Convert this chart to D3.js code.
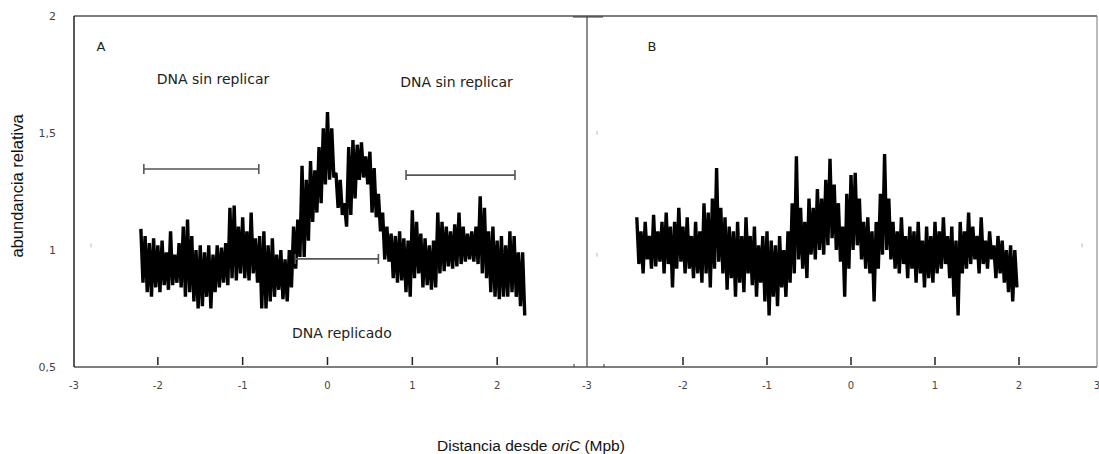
<!DOCTYPE html>
<html>
<head>
<meta charset="utf-8">
<script src="https://cdn.jsdelivr.net/npm/d3@7"></script>
<style>
  html, body { margin: 0; padding: 0; background: #fff; }
  svg { display: block; }
</style>
</head>
<body>
<svg id="chart" width="1099" height="454"></svg>
<script>
// x ticks (Mpb from oriC) and y ticks
const xTicks = [-3, -2, -1, 0, 1, 2, 3];
const yTicks = [0.5, 1, 1.5, 2];
const yTickLabels = ['0,5', '1', '1,5', '2'];

// panel A: positions start at -2.2, step 0.05; upper / lower swing of the trace
const startA = -2.2;
const hiA = [1.09, 1.06, 1.03, 1.05, 1.02, 1.04, 0.99, 1.08, 0.98, 1.03,
  1.10, 1.13, 1.06, 1.00, 1.02, 0.99, 1.02, 0.98, 1.02, 1.01,
  1.03, 1.18, 1.19, 1.10, 1.14, 1.08, 1.16, 1.05, 1.06, 1.08,
  1.02, 1.05, 0.98, 1.00, 0.96, 1.00, 1.10, 1.13, 1.36, 1.30,
  1.38, 1.34, 1.44, 1.52, 1.59, 1.52, 1.33, 1.30, 1.20, 1.44,
  1.47, 1.45, 1.46, 1.40, 1.42, 1.35, 1.24, 1.16, 1.10, 1.07,
  1.06, 1.08, 1.05, 1.04, 1.17, 1.12, 1.07, 1.05, 1.02, 1.04,
  1.16, 1.12, 1.10, 1.08, 1.11, 1.16, 1.10, 1.07, 1.08, 1.10,
  1.23, 1.18, 1.08, 1.10, 1.04, 1.06, 1.02, 1.08, 1.06, 0.99, 0.99];
const loA = [0.86, 0.82, 0.80, 0.84, 0.82, 0.85, 0.83, 0.85, 0.86, 0.84,
  0.80, 0.82, 0.78, 0.75, 0.76, 0.80, 0.75, 0.82, 0.84, 0.86,
  0.85, 0.88, 0.87, 0.90, 0.88, 0.87, 0.90, 0.86, 0.75, 0.75,
  0.78, 0.80, 0.83, 0.79, 0.78, 0.84, 0.92, 0.97, 0.97, 1.04,
  1.12, 1.16, 1.20, 1.28, 1.30, 1.31, 1.18, 1.15, 1.10, 1.15,
  1.22, 1.30, 1.31, 1.28, 1.16, 1.14, 1.08, 0.96, 0.95, 0.88,
  0.86, 0.87, 0.82, 0.80, 0.88, 0.90, 0.84, 0.85, 0.83, 0.84,
  0.90, 0.91, 0.93, 0.92, 0.93, 0.94, 0.95, 0.96, 0.95, 0.94,
  0.90, 0.88, 0.82, 0.80, 0.79, 0.80, 0.80, 0.82, 0.80, 0.76, 0.72];

// panel B: positions start at -2.55, step 0.05
const startB = -2.55;
const hiB = [1.14, 1.08, 1.12, 1.06, 1.15, 1.08, 1.12, 1.16, 1.10, 1.12,
  1.18, 1.10, 1.14, 1.06, 1.12, 1.08, 1.20, 1.16, 1.22, 1.35,
  1.18, 1.14, 1.10, 1.08, 1.12, 1.06, 1.14, 1.06, 1.10, 1.02,
  1.06, 1.08, 1.04, 1.02, 1.06, 1.00, 1.08, 1.20, 1.40, 1.18,
  1.12, 1.22, 1.18, 1.26, 1.22, 1.30, 1.39, 1.28, 1.20, 1.10,
  1.24, 1.32, 1.33, 1.22, 1.12, 1.14, 1.08, 1.12, 1.24, 1.41,
  1.22, 1.12, 1.08, 1.14, 1.06, 1.10, 1.08, 1.12, 1.04, 1.10,
  1.06, 1.12, 1.08, 1.14, 1.06, 1.10, 1.04, 1.12, 1.08, 1.16,
  1.10, 1.06, 1.14, 1.04, 1.08, 1.02, 1.06, 1.04, 1.00, 1.02, 1.00];
const loB = [0.94, 0.90, 0.96, 0.92, 0.93, 0.95, 0.90, 0.94, 0.84, 0.92,
  0.95, 0.90, 0.92, 0.88, 0.90, 0.86, 0.90, 0.84, 0.92, 0.95,
  0.90, 0.83, 0.88, 0.80, 0.86, 0.82, 0.90, 0.85, 0.80, 0.86,
  0.78, 0.72, 0.80, 0.76, 0.84, 0.80, 0.86, 0.90, 0.96, 0.92,
  0.88, 0.98, 0.96, 1.00, 0.98, 1.02, 1.05, 1.00, 0.95, 0.80,
  0.92, 1.00, 1.02, 0.96, 0.92, 0.90, 0.78, 0.92, 0.98, 1.00,
  0.96, 0.92, 0.90, 0.94, 0.88, 0.92, 0.86, 0.90, 0.84, 0.88,
  0.86, 0.90, 0.92, 0.94, 0.88, 0.80, 0.72, 0.90, 0.92, 0.94,
  0.96, 0.90, 0.94, 0.92, 0.96, 0.88, 0.90, 0.86, 0.82, 0.78, 0.84];

// annotation ranges in panel A: [x0, x1, y]
const spans = [[-2.165, -0.81, 1.346], [0.926, 2.21, 1.32], [-0.38, 0.60, 0.962]];
const notes = [
  { text: 'DNA sin replicar', x: -1.35, y: 1.73 },
  { text: 'DNA sin replicar', x: 1.52, y: 1.718 },
  { text: 'DNA replicado', x: 0.17, y: 0.645 }
];

const svg = d3.select('#chart');
const yTop = 16, yBottom = 367;
const frameL = 74, frameMid = 587, frameR = 1097;
const y = d3.scaleLinear().domain([0.5, 2]).range([yBottom, yTop]);
const xA = d3.scaleLinear().domain([-3, 3]).range([73, 582]);
const xB = d3.scaleLinear().domain([-3, 3]).range([599, 1103]);

// frame
svg.append('line').attr('x1', frameL).attr('x2', frameR).attr('y1', yTop).attr('y2', yTop)
  .attr('stroke', '#555').attr('stroke-width', 1.5);
svg.append('line').attr('x1', frameL).attr('x2', frameR).attr('y1', yBottom).attr('y2', yBottom)
  .attr('stroke', '#555').attr('stroke-width', 1.5);
svg.append('line').attr('x1', frameL).attr('x2', frameL).attr('y1', yTop).attr('y2', yBottom)
  .attr('stroke', '#222').attr('stroke-width', 1.5);
svg.append('line').attr('x1', frameMid).attr('x2', frameMid).attr('y1', yTop).attr('y2', yBottom)
  .attr('stroke', '#666').attr('stroke-width', 1.5);
svg.append('line').attr('x1', frameR).attr('x2', frameR).attr('y1', yTop).attr('y2', yBottom)
  .attr('stroke', '#777').attr('stroke-width', 1);

// x axes (end labels sit on the panel edges)
[xA, xB].forEach((x, k) => {
  const g = svg.append('g');
  xTicks.forEach(t => {
    if (t > -3 && t < 3) {
      g.append('line').attr('x1', x(t)).attr('x2', x(t))
        .attr('y1', yBottom - 10).attr('y2', yBottom - 2)
        .attr('stroke', '#222').attr('stroke-width', 1.5);
    }
    if (k === 0 && t === 3) return;
    let lx = x(t);
    if (t === -3) lx = k === 0 ? frameL : frameMid;
    if (t === 3) lx = frameR;
    g.append('text').attr('x', lx).attr('y', yBottom + 22)
      .attr('text-anchor', 'middle')
      .attr('font-family', 'DejaVu Sans, sans-serif').attr('font-size', 10)
      .attr('fill', '#444').text(t);
  });
});
// small marks where the two panels meet
[-13, 17].forEach(d => {
  svg.append('line').attr('x1', frameMid + d).attr('x2', frameMid + d)
    .attr('y1', yBottom - 3).attr('y2', yBottom).attr('stroke', '#333');
});
svg.append('line').attr('x1', 573).attr('x2', 603).attr('y1', yTop + 1).attr('y2', yTop + 1)
  .attr('stroke', '#333').attr('stroke-width', 1);

// y tick labels
yTicks.forEach((t, i) => {
  svg.append('text').attr('x', 56).attr('y', y(t) + 4)
    .attr('text-anchor', 'end')
    .attr('font-family', 'DejaVu Sans, sans-serif').attr('font-size', 11)
    .attr('fill', '#444').text(yTickLabels[i]);
});
// faint inner ticks
[[91, 1.02], [597, 1.5], [597, 0.98], [1082, 1.02]].forEach(([px, v]) => {
  svg.append('line').attr('x1', px).attr('x2', px).attr('y1', y(v) - 2).attr('y2', y(v) + 2)
    .attr('stroke', '#bbb').attr('stroke-width', 1);
});

// traces
function zigzag(start, hi, lo, x) {
  const pts = [];
  hi.forEach((h, i) => {
    const p = start + i * 0.05;
    pts.push([x(p), y(h)]);
    pts.push([x(p + 0.025), y(lo[i])]);
  });
  return pts;
}
const line = d3.line();
[[startA, hiA, loA, xA], [startB, hiB, loB, xB]].forEach(([s, hi, lo, x]) => {
  svg.append('path').attr('d', line(zigzag(s, hi, lo, x)))
    .attr('fill', 'none').attr('stroke', '#000').attr('stroke-width', 3.4)
    .attr('stroke-linejoin', 'miter').attr('stroke-miterlimit', 2);
});

// span bars
spans.forEach(([a, b, v]) => {
  const g = svg.append('g').attr('stroke', '#555').attr('stroke-width', 1.6);
  g.append('line').attr('x1', xA(a)).attr('x2', xA(b)).attr('y1', y(v)).attr('y2', y(v));
  g.append('line').attr('x1', xA(a)).attr('x2', xA(a)).attr('y1', y(v) - 5).attr('y2', y(v) + 5);
  g.append('line').attr('x1', xA(b)).attr('x2', xA(b)).attr('y1', y(v) - 5).attr('y2', y(v) + 5);
});

notes.forEach(n => {
  svg.append('text').attr('x', xA(n.x)).attr('y', y(n.y) + 5)
    .attr('text-anchor', 'middle')
    .attr('font-family', 'DejaVu Sans, sans-serif').attr('font-size', 14)
    .attr('fill', '#222').text(n.text);
});

svg.append('text').attr('x', 101).attr('y', 51).attr('text-anchor', 'middle')
  .attr('font-family', 'DejaVu Sans, sans-serif').attr('font-size', 13)
  .attr('fill', '#222').text('A');
svg.append('text').attr('x', 652).attr('y', 51).attr('text-anchor', 'middle')
  .attr('font-family', 'DejaVu Sans, sans-serif').attr('font-size', 13)
  .attr('fill', '#222').text('B');

// axis titles
svg.append('text').attr('transform', 'translate(23,186) rotate(-90)')
  .attr('text-anchor', 'middle')
  .attr('font-family', 'Liberation Sans, Arial, sans-serif').attr('font-size', 16.5)
  .attr('fill', '#111').text('abundancia relativa');
const xt = svg.append('text').attr('x', 531).attr('y', 451)
  .attr('text-anchor', 'middle')
  .attr('font-family', 'Liberation Sans, Arial, sans-serif').attr('font-size', 15.5)
  .attr('fill', '#111');
xt.append('tspan').text('Distancia desde ');
xt.append('tspan').attr('font-style', 'italic').text('oriC');
xt.append('tspan').text(' (Mpb)');
</script>
</body>
</html>
